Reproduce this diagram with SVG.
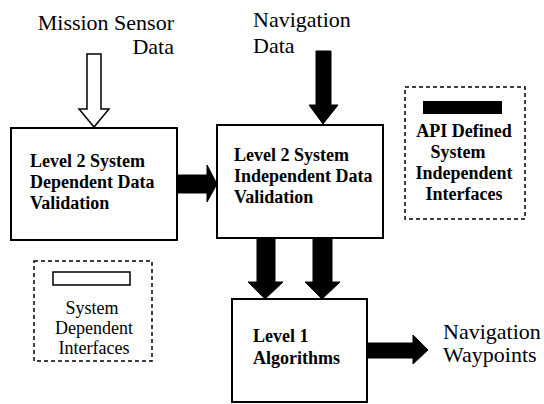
<svg xmlns="http://www.w3.org/2000/svg" width="544" height="404" viewBox="0 0 544 404">
  <style>
    .box { fill: #ffffff; stroke: #000000; stroke-width: 2; }
    .legend { fill: #ffffff; stroke: #000000; stroke-width: 1.5; stroke-dasharray: 4 3; }
    text { font-family: "Liberation Serif", "Times New Roman", serif; fill: #000000; }
    .lbl { font-size: 18px; font-weight: bold; }
    .txt { font-size: 22px; }
    .leg { font-size: 18px; }
    .solid { fill: #000000; stroke: #000000; stroke-width: 1; }
    .hollow { fill: #ffffff; stroke: #000000; stroke-width: 1.5; }
  </style>
  <rect width="544" height="404" fill="#ffffff"/>

  <g id="connectors">
    <polygon class="hollow" points="87,54 101,54 101,109 109,109 94,127 79,109 87,109"/>
    <polygon class="solid" points="316,51 331,51 331,105 338,105 323,124 309,105 316,105"/>
    <polygon class="solid" points="178,175 207,175 207,165 217,184 207,202 207,193 178,193"/>
    <polygon class="solid" points="257,238 275,238 275,282 283,282 265,299 248,282 257,282"/>
    <polygon class="solid" points="313,238 332,238 332,282 340,282 322,299 305,282 313,282"/>
    <polygon class="solid" points="368,343 413,343 413,335 428,350 413,364 413,358 368,358"/>
  </g>

  <g id="mission-sensor-data">
    <text class="txt" x="174" y="30" text-anchor="end">Mission Sensor</text>
    <text class="txt" x="174" y="54" text-anchor="end">Data</text>
  </g>

  <g id="navigation-data">
    <text class="txt" x="253" y="27">Navigation</text>
    <text class="txt" x="253" y="53">Data</text>
  </g>

  <g id="level2-dependent">
    <rect class="box" x="11" y="128" width="166" height="112"/>
    <text class="lbl" x="30" y="167">Level 2 System</text>
    <text class="lbl" x="30" y="188">Dependent Data</text>
    <text class="lbl" x="30" y="209">Validation</text>
  </g>

  <g id="level2-independent">
    <rect class="box" x="217" y="125" width="166" height="113"/>
    <text class="lbl" x="234" y="161">Level 2 System</text>
    <text class="lbl" x="234" y="182">Independent Data</text>
    <text class="lbl" x="234" y="203">Validation</text>
  </g>

  <g id="api-legend">
    <rect class="legend" x="405" y="87" width="120" height="132"/>
    <rect x="423" y="101" width="79" height="13" fill="#000000"/>
    <text class="lbl" x="464" y="137" text-anchor="middle">API Defined</text>
    <text class="lbl" x="458" y="158" text-anchor="middle">System</text>
    <text class="lbl" x="464" y="179" text-anchor="middle">Independent</text>
    <text class="lbl" x="464" y="200" text-anchor="middle">Interfaces</text>
  </g>

  <g id="sd-legend">
    <rect class="legend" x="34" y="261" width="118" height="100"/>
    <rect x="53" y="272" width="77" height="13" fill="#ffffff" stroke="#000000" stroke-width="1.5"/>
    <text class="leg" x="92" y="314" text-anchor="middle">System</text>
    <text class="leg" x="94" y="334" text-anchor="middle">Dependent</text>
    <text class="leg" x="94" y="354" text-anchor="middle">Interfaces</text>
  </g>

  <g id="level1-algorithms">
    <rect class="box" x="232" y="299" width="135" height="103"/>
    <text class="lbl" x="253" y="342">Level 1</text>
    <text class="lbl" x="253" y="364">Algorithms</text>
  </g>

  <g id="navigation-waypoints">
    <text class="txt" x="443" y="339">Navigation</text>
    <text class="txt" x="443" y="362">Waypoints</text>
  </g>
</svg>
